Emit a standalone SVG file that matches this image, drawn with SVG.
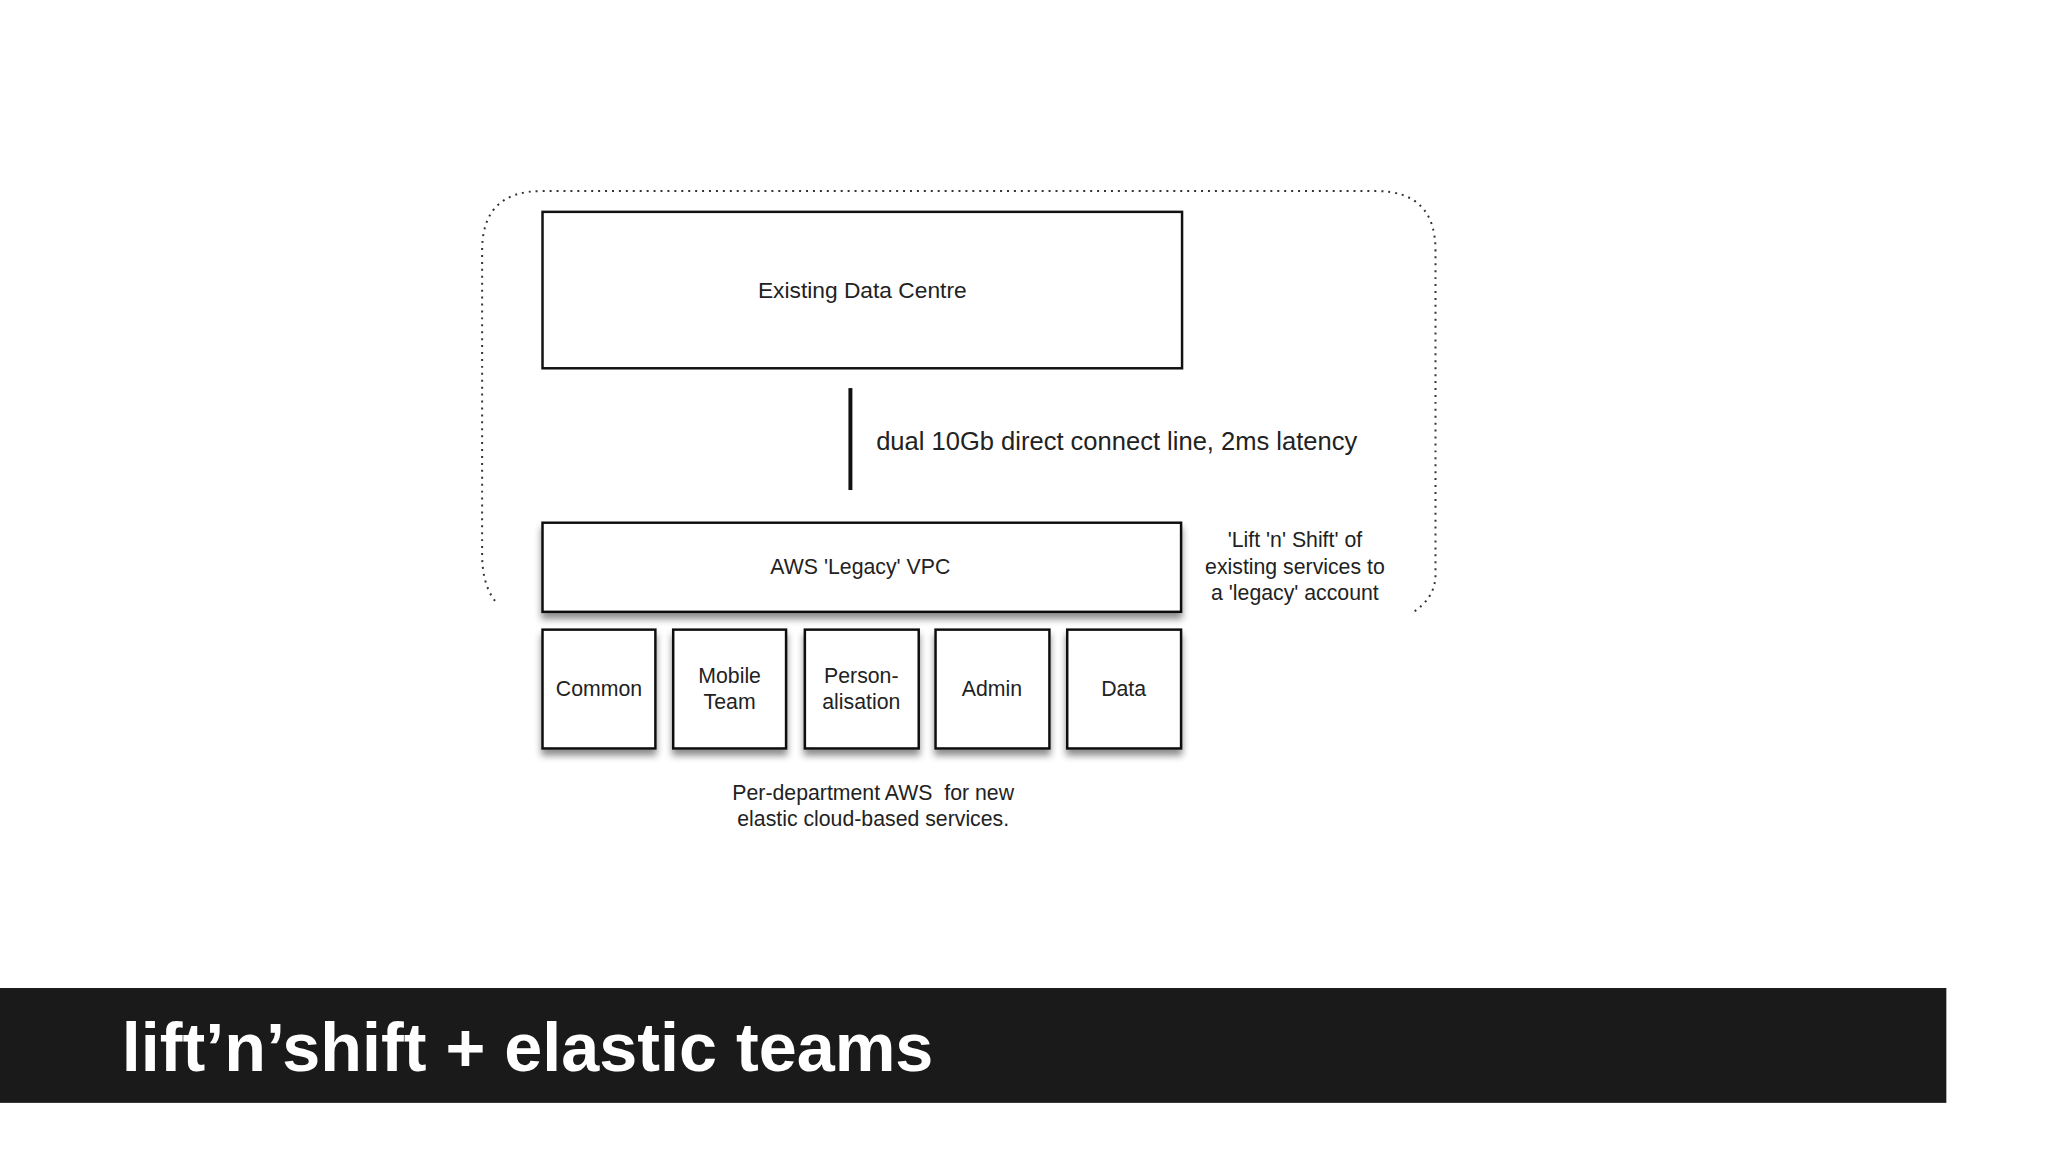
<svg xmlns="http://www.w3.org/2000/svg" width="2048" height="1152" viewBox="0 0 2048 1152">
<defs>
<style>
.box{fill:#fff;stroke:#111;stroke-width:2.5}
.sh{filter:url(#sh)}
.t{font-family:"Liberation Sans",Arial,sans-serif;fill:#222;text-anchor:middle}
</style>
<filter id="sh" x="-20%" y="-20%" width="140%" height="160%"><feDropShadow dx="0" dy="6" stdDeviation="4" flood-color="#000" flood-opacity="0.45"/></filter>
</defs>
<rect width="2048" height="1152" fill="#fff"/>
<g transform="scale(0.99)">
<g id="boundary"><path d="M500,607 Q487,590 487,560 L487,253 Q487,193 547,193 L1390,193 Q1450,193 1450,253 L1450,580 Q1450,605 1425,620" fill="none" stroke="#333" stroke-width="2" stroke-dasharray="2,5"/></g>
<g id="dc"><rect class="box" x="548" y="214" width="646" height="158"/><text class="t" x="871" y="301" font-size="23">Existing Data Centre</text></g>
<g id="connectors"><line x1="859" y1="392" x2="859" y2="495" stroke="#111" stroke-width="4"/><text class="t" x="885" y="455" font-size="25.8" style="text-anchor:start">dual 10Gb direct connect line, 2ms latency</text></g>
<g id="vpc"><rect class="box sh" x="548" y="528" width="645" height="90"/><text class="t" x="869" y="580" font-size="21.5">AWS 'Legacy' VPC</text></g>
<g id="lnote" class="t" font-size="21.5"><text x="1308" y="553">'Lift 'n' Shift' of</text><text x="1308" y="580">existing services to</text><text x="1308" y="606">a 'legacy' account</text></g>
<g id="common"><rect class="box sh" x="548" y="636" width="114" height="120"/><text class="t" x="605" y="703" font-size="21.5">Common</text></g>
<g id="mobile"><rect class="box sh" x="680" y="636" width="114" height="120"/><text class="t" x="737" y="690" font-size="21.5">Mobile</text><text class="t" x="737" y="716" font-size="21.5">Team</text></g>
<g id="person"><rect class="box sh" x="813" y="636" width="115" height="120"/><text class="t" x="870" y="690" font-size="21.5">Person-</text><text class="t" x="870" y="716" font-size="21.5">alisation</text></g>
<g id="admin"><rect class="box sh" x="945" y="636" width="115" height="120"/><text class="t" x="1002" y="703" font-size="21.5">Admin</text></g>
<g id="data"><rect class="box sh" x="1078" y="636" width="115" height="120"/><text class="t" x="1135" y="703" font-size="21.5">Data</text></g>
<g id="pnote" class="t" font-size="21.5"><text x="882" y="808">Per-department AWS &#160;for new</text><text x="882" y="834">elastic cloud-based services.</text></g>
<g id="titlebar"><rect x="0" y="998" width="1966" height="116" fill="#1a1a1a"/><text x="123" y="1082" font-family="Liberation Sans,Arial,sans-serif" font-weight="bold" font-size="69" fill="#fff">lift’n’shift + elastic teams</text></g>
</g>
</svg>
